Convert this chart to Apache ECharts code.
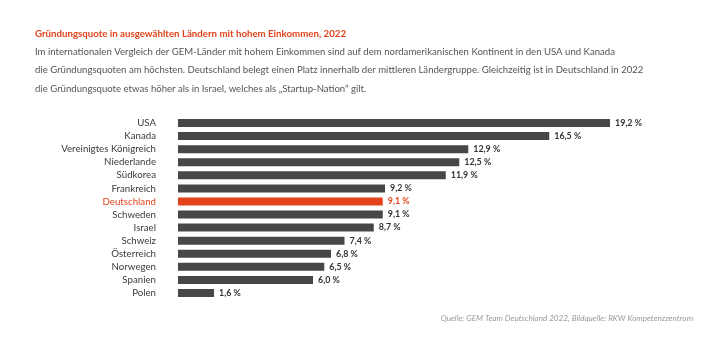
<!DOCTYPE html>
<html><head><meta charset="utf-8">
<script src="https://cdn.jsdelivr.net/npm/echarts@6/dist/echarts.min.js"></script>
<style>html,body{margin:0;padding:0;background:#fff}#c{width:710px;height:338px}</style>
</head><body><div id="c"></div>
<script>
const countries = ["USA","Kanada","Vereinigtes Königreich","Niederlande","Südkorea","Frankreich","Deutschland","Schweden","Israel","Schweiz","Österreich","Norwegen","Spanien","Polen"];
const values = [19.2,16.5,12.9,12.5,11.9,9.2,9.1,9.1,8.7,7.4,6.8,6.5,6.0,1.6];
const highlight = "Deutschland";
const titleText = "Gründungsquote in ausgewählten Ländern mit hohem Einkommen, 2022";
const bodyLines = [
 "Im internationalen Vergleich der GEM-Länder mit hohem Einkommen sind auf dem nordamerikanischen Kontinent in den USA und Kanada",
 "die Gründungsquoten am höchsten. Deutschland belegt einen Platz innerhalb der mittleren Ländergruppe. Gleichzeitig ist in Deutschland in 2022",
 "die Gründungsquote etwas höher als in Israel, welches als „Startup-Nation“ gilt."
];
const sourceText = "Quelle: GEM Team Deutschland 2022, Bildquelle: RKW Kompetenzzentrum";

const RED = "#e2431c", GRAY = "#474747";
const FONT = "Lato, 'Liberation Sans', sans-serif";
const cv = document.createElement('canvas').getContext('2d');
function fit(text, pre, target){ cv.font = pre+" 100px "+FONT; return Math.round(100*target/cv.measureText(text).width*10)/10; }
const titleSize = fit(titleText, "bold", 312);
const bodySize = fit(bodyLines[0], "", 582);
const srcSize = fit(sourceText, "italic", 253);
const axisSize = fit("Vereinigtes Königreich", "", 95);
const valSize = fit("19,2 %", "bold", 27);

const chart = echarts.init(document.getElementById('c'));
const graphics = [{type:'text',left:35,top:35-titleSize*0.6,style:{text:titleText,fill:RED,font:"bold "+titleSize+"px "+FONT}}];
bodyLines.forEach((t,i)=>graphics.push({type:'text',left:35,top:[52.7,71,89.3][i]-bodySize*0.6,style:{text:t,fill:"#555",font:bodySize+"px "+FONT}}));
graphics.push({type:'text',right:17,top:319-srcSize*0.6,style:{text:sourceText,fill:"#999",font:"italic "+srcSize+"px "+FONT}});
chart.setOption({
  animation:false,
  textStyle:{fontFamily:FONT},
  graphic:graphics,
  grid:{left:178,top:116.5,width:450,height:183},
  xAxis:{type:'value',min:0,max:20,show:false},
  yAxis:{type:'category',data:countries,inverse:true,axisLine:{show:false},axisTick:{show:false},
    axisLabel:{interval:0,margin:22,fontSize:axisSize,color:"#3a3a3a",fontFamily:FONT,
      formatter:v=>v===highlight?"{h|"+v+"}":v,rich:{h:{color:RED,fontSize:axisSize,fontFamily:FONT}}}},
  series:[{type:'bar',barWidth:8,
    data:values.map((v,i)=>({value:v,itemStyle:{color:countries[i]===highlight?RED:GRAY},
      label:{color:countries[i]===highlight?RED:"#333"}})),
    label:{show:true,position:'right',distance:5,fontSize:valSize,fontWeight:'bold',fontFamily:FONT,
      formatter:p=>p.value.toFixed(1).replace('.',',')+" %"}}]
});
</script></body></html>
